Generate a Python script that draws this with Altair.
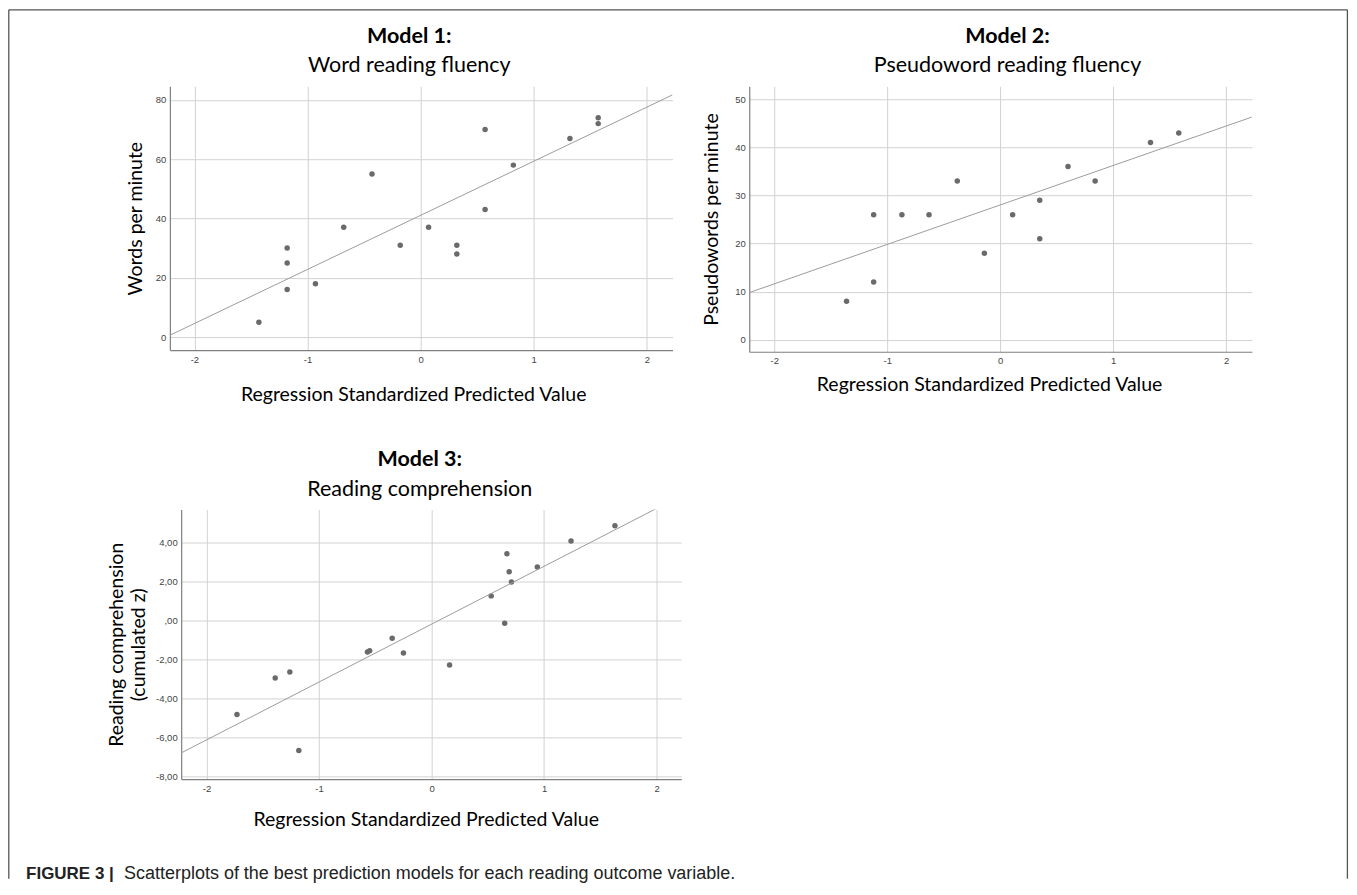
import altair as alt
import pandas as pd

# ---------------- data ----------------
# Model 1: Word reading fluency
m1_x = [-1.43, -1.18, -1.18, -1.18, -0.93, -0.68, -0.43, -0.18, 0.07,
        0.32, 0.32, 0.57, 0.57, 0.82, 1.32, 1.57, 1.57]
m1_y = [5, 30, 25, 16, 18, 37, 55, 31, 37, 31, 28, 70, 43, 58, 67, 74, 72]
fit1_x = [-2.217, 2.227]
fit1_y = [0.6, 81.7]

# Model 2: Pseudoword reading fluency
m2_x = [-1.36, -1.12, -1.12, -0.87, -0.63, -0.38, -0.14, 0.11, 0.35, 0.35,
        0.60, 0.84, 1.33, 1.58]
m2_y = [8, 26, 12, 26, 26, 33, 18, 26, 29, 21, 36, 33, 41, 43]
fit2_x = [-2.221, 2.227]
fit2_y = [9.8, 46.3]

# Model 3: Reading comprehension
m3_x = [-1.73, -1.39, -1.26, -1.18, -0.57, -0.55, -0.35, -0.25, 0.16, 0.53,
        0.65, 0.67, 0.69, 0.71, 0.94, 1.24, 1.63]
m3_y = [-4.84, -2.97, -2.66, -6.69, -1.63, -1.56, -0.93, -1.68, -2.30, 1.25,
        -0.15, 3.41, 2.49, 1.96, 2.73, 4.07, 4.85]
fit3_x = [-2.226, 2.22]
fit3_y = [-6.81, 6.39]

x_ticks = [-2, -1, 0, 1, 2]
y1_ticks = [0, 20, 40, 60, 80]
y2_ticks = [0, 10, 20, 30, 40, 50]
y3_ticks = [-8, -6, -4, -2, 0, 2, 4]

titles = ["Model 1:", "Model 2:", "Model 3:"]
subtitles = ["Word reading fluency", "Pseudoword reading fluency", "Reading comprehension"]
x_title = "Regression Standardized Predicted Value"
y_titles = ["Words per minute", "Pseudowords per minute",
            ["Reading comprehension", "(cumulated z)"]]
caption_bold = "FIGURE 3 |"
caption_text = "Scatterplots of the best prediction models for each reading outcome variable."

TITLE_FONT = "Lato"
TICK_FONT = "Liberation Sans"

one = pd.DataFrame({"k": [0]})

int_label = "(datum.value < 0 ? '-' : '') + format(abs(datum.value), 'd')"
dec_label = ("datum.value == 0 ? ',00' : (datum.value < 0 ? '-' : '') + "
             "replace(format(abs(datum.value), '.2f'), '.', ',')")


def title_marks(title, subtitle, cx):
    t1 = alt.Chart(one).mark_text(font=TITLE_FONT, fontSize=21.5, fontWeight="bold",
                                  color="black", align="center",
                                  baseline="alphabetic").encode(
        x=alt.value(cx), y=alt.value(-43.5), text=alt.value(title))
    t2 = alt.Chart(one).mark_text(font=TITLE_FONT, fontSize=21.5, color="black",
                                  align="center", baseline="alphabetic").encode(
        x=alt.value(cx), y=alt.value(-14), text=alt.value(subtitle))
    return [t1, t2]


def panel(px, py, fx, fy, xdom, ydom, yticks, w, h, title, subtitle, ytitle,
          ylabel_expr, title_cx, ytitle_x, xtitle_x, xtitle_y,
          xrange=None, yoffset=0, extra=()):
    if xrange is not None:
        xscale = alt.Scale(domain=xdom, nice=False, zero=False, range=xrange)
    else:
        xscale = alt.Scale(domain=xdom, nice=False, zero=False)
    xenc = alt.X("x:Q", scale=xscale,
                 axis=alt.Axis(values=x_ticks, title=x_title, labelExpr=int_label,
                               titleX=xtitle_x, titleY=xtitle_y,
                               titleAlign="center", titleBaseline="middle"))
    yenc = alt.Y("y:Q", scale=alt.Scale(domain=ydom, nice=False, zero=False),
                 axis=alt.Axis(values=yticks, title=ytitle, labelExpr=ylabel_expr,
                               titleX=ytitle_x, titleY=h / 2, titleAngle=270,
                               titleAlign="center", titleBaseline="middle",
                               titleLineHeight=22, offset=yoffset))
    pts = alt.Chart(pd.DataFrame({"x": px, "y": py})).mark_circle(
        size=30, color="#6a6a6a", opacity=1).encode(x=xenc, y=yenc)
    fit = alt.Chart(pd.DataFrame({"x": fx, "y": fy})).mark_line(
        color="#9c9c9c", strokeWidth=1, clip=True).encode(x=xenc, y=yenc)
    layers = [pts, fit] + title_marks(title, subtitle, title_cx) + list(extra)
    return alt.layer(*layers).properties(width=w, height=h)


# decorative frame around the figure (pixel offsets from panel 1's plot corner)
FR = dict(color="#555555", strokeWidth=1.3)
frame_left = alt.Chart(one).mark_rule(**FR).encode(
    x=alt.value(-161.2), y=alt.value(-76.5), y2=alt.value(793))
frame_right = alt.Chart(one).mark_rule(**FR).encode(
    x=alt.value(1178.4), y=alt.value(-76.5), y2=alt.value(793))
frame_top = alt.Chart(one).mark_rule(**FR).encode(
    x=alt.value(-161.2), x2=alt.value(1178.4), y=alt.value(-76.5))

cap1 = alt.Chart(one).mark_text(font="Liberation Sans", fontSize=17, fontWeight="bold",
                                align="left", baseline="alphabetic", color="#222222").encode(
    x=alt.value(-143.9), y=alt.value(369.5), text=alt.value(caption_bold))
cap2 = alt.Chart(one).mark_text(font="Liberation Sans", fontSize=18,
                                align="left", baseline="alphabetic", color="#222222").encode(
    x=alt.value(-45.9), y=alt.value(369.5), text=alt.value(caption_text))

p1 = panel(m1_x, m1_y, fit1_x, fit1_y, [-2.217, 2.227], [-4.4, 84.6], y1_ticks,
           503, 264, titles[0], subtitles[0], y_titles[0], int_label,
           239.6, -34.85, 243.5, 44, extra=(frame_left, frame_right, frame_top))
p2 = panel(m2_x, m2_y, fit2_x, fit2_y, [-2.221, 2.227], [-2.5, 52.7], y2_ticks,
           503, 265.7, titles[1], subtitles[1], y_titles[1], int_label,
           258.5, -37.5, 240, 33)
p3 = panel(m3_x, m3_y, fit3_x, fit3_y, [-2.226, 2.22], [-8.15, 5.68], y3_ticks,
           511.8, 269.7, titles[2], subtitles[2], y_titles[2], dec_label,
           250, -65, 256, 40, xrange=[11.3, 511.8], yoffset=-11.3,
           extra=(cap1, cap2))

chart = alt.concat(p1, p2, p3, columns=2, bounds="flush",
                   spacing=alt.RowColnumber(row=157.6, column=67.8)).properties(
    padding=0, background="white"
).configure_view(stroke=None).configure_axis(
    grid=True, gridColor="#d2d2d2", gridWidth=1,
    domainColor="#7f7f7f", domainWidth=1.2,
    ticks=False, labelFont=TICK_FONT, labelFontSize=9.5, labelColor="#444444",
    labelPadding=4, titleFont=TITLE_FONT, titleFontSize=19.5,
    titleFontWeight="normal", titleColor="black"
)

chart.save("out.html", embed_options={"renderer": "svg", "actions": False})
